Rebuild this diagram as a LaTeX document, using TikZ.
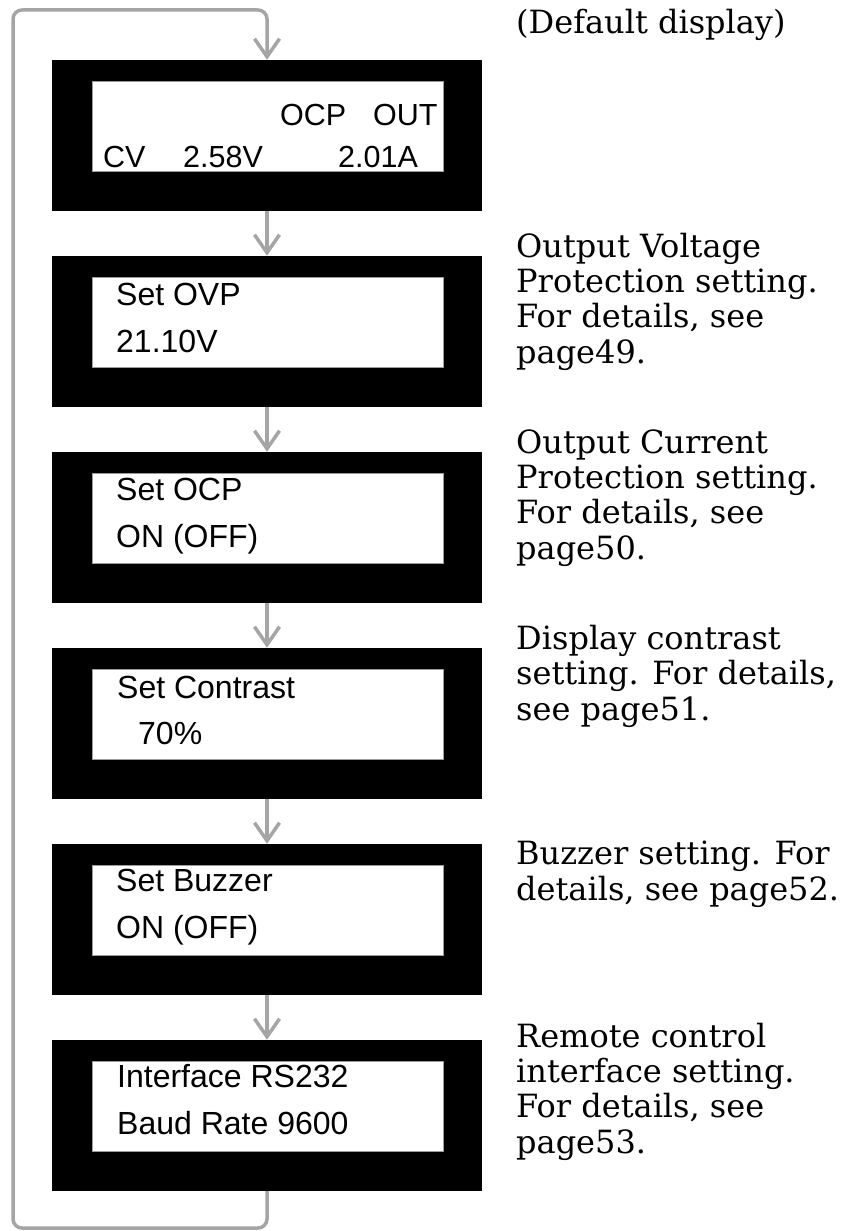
\documentclass[tikz,border=0pt]{standalone}
\usepackage{fontspec}
\setmainfont{DejaVu Serif}
\setsansfont{Liberation Sans}
\usepackage{xcolor}
\definecolor{flow}{HTML}{A5A5A5}
\definecolor{rim}{HTML}{9A9A9A}
\usepackage{tikz}
\usetikzlibrary{arrows.meta,positioning,calc}

\begin{document}
\begin{tikzpicture}[x=1pt,y=-1pt,
  lcd/.style={fill=black,minimum width=430pt,minimum height=151pt,inner sep=0pt},
  screen/.style={fill=white,draw=rim,line width=0.5pt,minimum width=351pt,
    minimum height=90pt,inner sep=0pt},
  lcdtxt/.style={font=\sffamily\fontsize{32}{38}\selectfont,anchor=base west,inner sep=0pt},
  toptxt/.style={lcdtxt,font=\sffamily\fontsize{30.5}{36}\selectfont},
  note/.style={font=\fontsize{32}{35.3}\selectfont,anchor=base west,align=left,inner sep=0pt},
  nxt/.style={-{Straight Barb[length=18pt,width=25pt]},flow,line width=3.5pt}]
\useasboundingbox (0,0) rectangle (851,1231);
% displays
\foreach \i in {1,...,6}{
  \node[lcd] (b\i) at (267,{135.5+196*(\i-1)}) {};
  \node[screen] (s\i) at (267.5,{126+196*(\i-1)}) {};
}
% default display
\node[toptxt] (ocp) at (280,125) {OCP};
\node[toptxt] (out) at (373,125) {OUT};
\node[toptxt] (cv) at (103,167) {CV};
\node[toptxt] (volt) at (183,167) {2.58V};
\node[toptxt] (amp) at (338,167) {2.01A};
% menu screens
\node[lcdtxt] (ovp) at (116,305) {Set OVP};
\node[lcdtxt] (ovpval) at (116,352) {21.10V};
\node[lcdtxt] (ocpset) at (116,500) {Set OCP};
\node[lcdtxt] (ocpval) at (116,547) {ON (OFF)};
\node[lcdtxt] (con) at (117,698) {Set Contrast};
\node[lcdtxt] (conval) at (138,744) {70\%};
\node[lcdtxt] (buz) at (116,891) {Set Buzzer};
\node[lcdtxt] (buzval) at (116,938) {ON (OFF)};
\node[lcdtxt] (intf) at (117,1087) {Interface RS232};
\node[lcdtxt] (baud) at (117,1134) {Baud Rate 9600};
% notes (placed by the baseline of their last line)
\node[note] (n1) at (516,34) {(Default display)};
\node[note] (n2) at (516,363) {Output Voltage\\Protection setting.\\For details, see\\page49.};
\node[note] (n3) at (516,559) {Output Current\\Protection setting.\\For details, see\\page50.};
\node[note] (n4) at (516,720) {Display contrast\\setting. For details,\\see page51.};
\node[note] (n5) at (516,900) {Buzzer setting. For\\details, see page52.};
\node[note] (n6) at (516,1153) {Remote control\\interface setting.\\For details, see\\page53.};
% flow
\foreach \i/\j in {1/2,2/3,3/4,4/5,5/6}
  \draw[nxt] (b\i) -- (b\j);
\coordinate (loopbl) at (13,1228);
\coordinate (looptl) at (13,10);
\draw[nxt,rounded corners=9pt] (b6.south) |- (loopbl) -- (looptl) -| (b1.north);
\end{tikzpicture}
\end{document}
